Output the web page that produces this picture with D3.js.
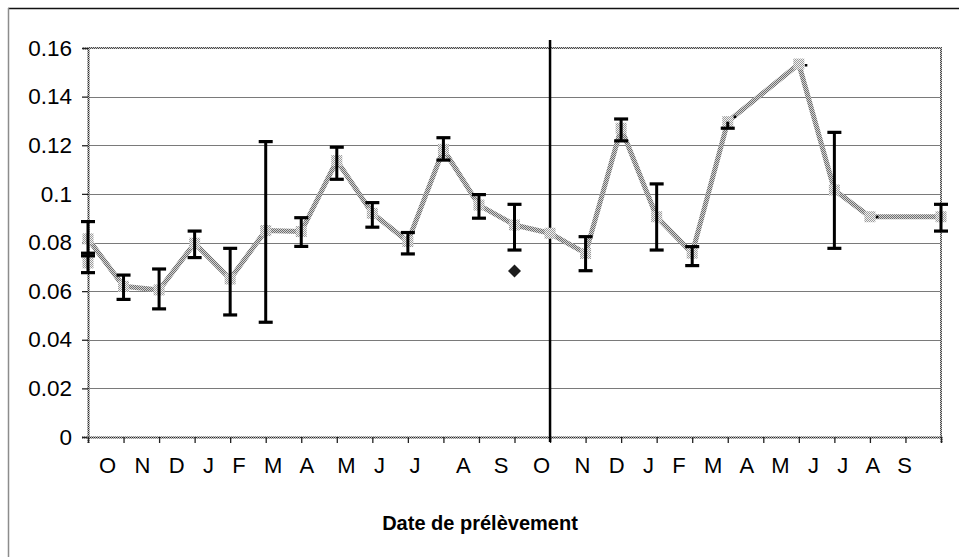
<!DOCTYPE html>
<html>
<head>
<meta charset="utf-8">
<script src="https://cdn.jsdelivr.net/npm/d3@7"></script>
<style>
  html, body { margin: 0; padding: 0; background: #fff; }
  svg { display: block; font-family: "Liberation Sans", Arial, sans-serif; }
</style>
</head>
<body>
<svg id="chart" width="959" height="557"></svg>
<script>
// Month initials along the date axis (two sampling years, October to September)
const monthLabels = ["O","N","D","J","F","M","A","M","J","J","A","S",
                     "O","N","D","J","F","M","A","M","J","J","A","S"];
// Spaces between consecutive initials in the axis caption
const monthGaps = [3,3,3,3,3,3,4,3,4,6,4,4,4,3,3,3,3,3,3,3,3,3,3];

// Mean value at each monthly sampling position (null = no sample)
const meanValues = [0.0815, 0.062, 0.0605, 0.0797, 0.065, 0.0849, 0.0845, 0.1137,
                    0.092, 0.0804, 0.1183, 0.0954, 0.0872, 0.0838, 0.0755, 0.127,
                    0.0906, 0.0756, 0.1297, null, 0.1534, 0.1016, 0.0906, null, 0.0906];
// Lower / upper ends of the error bars (null = no bar end)
const errLow  = [0.0745, 0.0566, 0.0527, 0.0738, 0.0502, 0.0472, 0.0784, 0.106,
                 0.0863, 0.0753, 0.1139, 0.09, 0.0769, null, 0.0684, 0.1218,
                 0.0769, 0.0705, 0.127, null, null, 0.0776, null, null, 0.0847];
const errHigh = [0.0886, 0.0666, 0.0691, 0.0847, 0.0776, 0.1215, 0.0902, 0.1192,
                 0.0964, 0.0841, 0.1231, 0.0997, 0.0957, null, 0.0824, 0.1308,
                 0.1041, 0.0783, null, null, null, 0.1253, null, null, 0.0957];
// Very short error bars that only show as a dot
const tinyBarPos = [18, 20, 22];
const tinyBarVal = [0.1318, 0.153, 0.0906];

// Replicate sample at the first date
const extraPos = [0];
const extraVal = [0.0716];
const extraLow = [0.0676];
const extraHigh = [0.0756];

// Isolated measurement (diamond)
const diamondPos = [12];
const diamondVal = [0.0683];

// Y axis ticks
const yTickValues = [0, 0.02, 0.04, 0.06, 0.08, 0.1, 0.12, 0.14, 0.16];
const yTickLabels = ["0","0.02","0.04","0.06","0.08","0.1","0.12","0.14","0.16"];

const axisTitle = "Date de prélèvement";
const yearBreak = 13;   // position of the separation between the two years

const svg = d3.select("#chart");
const W = 959, H = 557;
const plot = { left: 88, right: 941, top: 48, bottom: 437 };

const x = d3.scaleLinear().domain([0, 24]).range([plot.left, plot.right]);
const y = d3.scaleLinear().domain([0, 0.16]).range([plot.bottom, plot.top]);

// Dithered fills
const defs = svg.append("defs");
function dither(id, a, b) {
  const p = defs.append("pattern").attr("id", id)
    .attr("width", 2).attr("height", 2).attr("patternUnits", "userSpaceOnUse");
  p.append("rect").attr("width", 2).attr("height", 2).attr("fill", b);
  p.append("rect").attr("x", 0).attr("y", 0).attr("width", 1).attr("height", 1).attr("fill", a);
  p.append("rect").attr("x", 1).attr("y", 1).attr("width", 1).attr("height", 1).attr("fill", a);
}
dither("ditherLine", "#6e6e6e", "#d4d4d4");
dither("ditherMarker", "#9a9a9a", "#f2f2f2");
dither("ditherFrame", "#2a2a2a", "#bcbcbc");
dither("ditherBorder", "#4a4a4a", "#c8c8c8");
dither("ditherDiamond", "#000000", "#3a3a3a");

svg.append("rect").attr("width", W).attr("height", H).attr("fill", "#fff");

// Outer chart frame (extends past the page on right and bottom)
svg.append("line").attr("x1", 8).attr("x2", W).attr("y1", 8.5).attr("y2", 8.5)
  .attr("stroke", "#111").attr("stroke-width", 1.5);
svg.append("line").attr("x1", 8.5).attr("x2", 8.5).attr("y1", 8).attr("y2", H)
  .attr("stroke", "#8c8c8c").attr("stroke-width", 1.5);

// Horizontal gridlines
svg.append("g").selectAll("line")
  .data(yTickValues.filter(v => v > 0 && v < 0.16))
  .join("line")
  .attr("x1", plot.left).attr("x2", plot.right)
  .attr("y1", d => Math.round(y(d)) + 0.5).attr("y2", d => Math.round(y(d)) + 0.5)
  .attr("stroke", "#7a7a7a").attr("stroke-width", 1);

// Plot-area border: top and right
svg.append("path")
  .attr("d", `M${plot.left},${plot.top}H${plot.right}V${plot.bottom}`)
  .attr("fill", "none").attr("stroke", "url(#ditherBorder)").attr("stroke-width", 2);

// Y axis
const yAxis = d3.axisLeft(y).tickValues(yTickValues)
  .tickFormat((d, i) => yTickLabels[i]).tickSize(6).tickPadding(10);
const gy = svg.append("g").attr("transform", `translate(${plot.left},0)`).call(yAxis);
gy.select(".domain").attr("stroke", "url(#ditherFrame)").attr("stroke-width", 2);
gy.selectAll(".tick line").attr("stroke", "#222").attr("stroke-width", 1.3);
gy.selectAll(".tick text").attr("font-size", 22.5).attr("fill", "#000")
  .attr("font-family", "Liberation Sans, Arial, sans-serif");

// X axis (ticks only, month initials are written as one caption)
const xAxis = d3.axisBottom(x).tickValues(d3.range(0, 25)).tickFormat("").tickSize(6);
const gx = svg.append("g").attr("transform", `translate(0,${plot.bottom})`).call(xAxis);
gx.select(".domain").attr("stroke", "url(#ditherFrame)").attr("stroke-width", 2);
gx.selectAll(".tick line").attr("stroke", "#222").attr("stroke-width", 1.3);

// Month caption
const caption = monthLabels.map((m, i) => i < monthGaps.length ? m + " ".repeat(monthGaps[i]) : m).join("");
svg.append("text")
  .attr("x", 99).attr("y", 473)
  .attr("xml:space", "preserve").style("white-space", "pre")
  .attr("font-size", 22).attr("fill", "#000")
  .text(caption);

// Axis title
svg.append("text")
  .attr("x", 480).attr("y", 530).attr("text-anchor", "middle")
  .attr("font-size", 20).attr("font-weight", "bold").attr("fill", "#000")
  .text(axisTitle);

// Year separation line
svg.append("line")
  .attr("x1", x(yearBreak)).attr("x2", x(yearBreak))
  .attr("y1", 40).attr("y2", plot.bottom + 5)
  .attr("stroke", "#000").attr("stroke-width", 2.5);

// Mean series line (joins across missing months)
const pts = meanValues.map((v, i) => ({ i, v })).filter(d => d.v !== null);
svg.append("path").datum(pts)
  .attr("d", d3.line().x(d => x(d.i)).y(d => y(d.v)))
  .attr("fill", "none").attr("stroke", "url(#ditherLine)").attr("stroke-width", 5)
  .attr("stroke-linejoin", "round");

// Markers
const mk = 11;
svg.append("g").selectAll("rect.mean")
  .data(pts).join("rect")
  .attr("x", d => x(d.i) - mk / 2).attr("y", d => y(d.v) - mk / 2)
  .attr("width", mk).attr("height", mk).attr("fill", "url(#ditherMarker)");
const extra = extraPos.map((p, k) => ({ i: p, v: extraVal[k], lo: extraLow[k], hi: extraHigh[k] }));
svg.append("g").selectAll("rect.extra")
  .data(extra).join("rect")
  .attr("x", d => x(d.i) - mk / 2).attr("y", d => y(d.v) - mk / 2)
  .attr("width", mk).attr("height", mk).attr("fill", "url(#ditherMarker)");

// Error bars
const capW = 14;
const bars = meanValues.map((v, i) => ({ i, v, lo: errLow[i], hi: errHigh[i] }))
  .filter(d => d.v !== null && (d.lo !== null || d.hi !== null))
  .concat(extra);
const gb = svg.append("g").attr("stroke", "#000").attr("stroke-width", 3).attr("fill", "none");
bars.forEach(d => {
  const lo = d.lo !== null ? d.lo : d.v;
  const hi = d.hi !== null ? d.hi : d.v;
  gb.append("line").attr("x1", x(d.i)).attr("x2", x(d.i)).attr("y1", y(lo)).attr("y2", y(hi));
  if (d.lo !== null) gb.append("line").attr("x1", x(d.i) - capW / 2).attr("x2", x(d.i) + capW / 2)
    .attr("y1", y(d.lo)).attr("y2", y(d.lo)).attr("stroke-width", 3.2);
  if (d.hi !== null) gb.append("line").attr("x1", x(d.i) - capW / 2).attr("x2", x(d.i) + capW / 2)
    .attr("y1", y(d.hi)).attr("y2", y(d.hi)).attr("stroke-width", 3.2);
});

// Tiny error bars
svg.append("g").selectAll("rect.tiny")
  .data(tinyBarPos.map((p, k) => ({ i: p, v: tinyBarVal[k] })))
  .join("rect")
  .attr("x", d => x(d.i) + 6).attr("y", d => y(d.v) - 1)
  .attr("width", 2.5).attr("height", 2.5).attr("fill", "#000");

// Diamond measurement
svg.append("g").selectAll("path.diamond")
  .data(diamondPos.map((p, k) => ({ i: p, v: diamondVal[k] })))
  .join("path")
  .attr("transform", d => `translate(${x(d.i)},${y(d.v)})`)
  .attr("d", "M0,-6.5L6.5,0L0,6.5L-6.5,0Z")
  .attr("fill", "url(#ditherDiamond)");
</script>
</body>
</html>
